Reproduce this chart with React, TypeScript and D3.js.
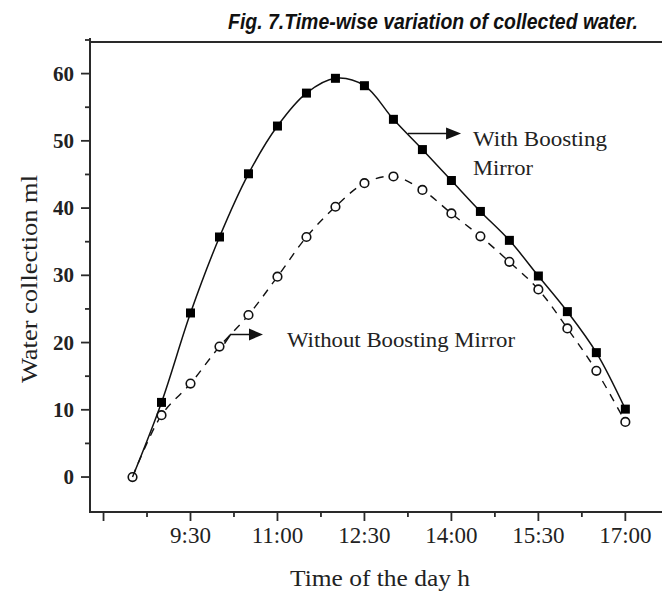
import React, { useLayoutEffect, useRef, useState } from "react";
import * as d3 from "d3";

const times = ["8:30","9:00","9:30","10:00","10:30","11:00","11:30","12:00","12:30","13:00","13:30","14:00","14:30","15:00","15:30","16:00","16:30","17:00"];
const withMirror = [0, 11.1, 24.4, 35.7, 45.1, 52.2, 57.1, 59.3, 58.2, 53.2, 48.7, 44.1, 39.5, 35.2, 29.9, 24.6, 18.5, 10.1];
const withoutMirror = [0, 9.2, 13.9, 19.4, 24.1, 29.8, 35.7, 40.2, 43.7, 44.7, 42.7, 39.2, 35.8, 32.0, 27.9, 22.1, 15.8, 8.2];
const xMajorTicks = ["8:00","9:30","11:00","12:30","14:00","15:30","17:00"];
const xTickLabels = ["","9:30","11:00","12:30","14:00","15:30","17:00"];
const xMinorTicks = ["8:45","10:15","11:45","13:15","14:45","16:15"];
const yMajorTicks = [0,10,20,30,40,50,60];
const yMinorTicks = [5,15,25,35,45,55,65];

const toMin = (t: string) => { const [h, m] = t.split(":").map(Number); return h * 60 + m; };

const W = 662, H = 593;
const L = 90, R = 664, T = 42, B = 512;
const TITLE_W = 410;

export default function App() {
  const titleRef = useRef<SVGTextElement>(null);
  const [sx, setSx] = useState(0.88);
  useLayoutEffect(() => {
    if (titleRef.current) {
      const w = titleRef.current.getComputedTextLength();
      if (w > 0) setSx(TITLE_W / w);
    }
  }, []);

  const x = d3.scaleLinear().domain([466, 1060]).range([L, R]);
  const y = d3.scaleLinear().domain([-5.2, 64.7]).range([B, T]);
  const ptsWith = times.map((t, i) => [x(toMin(t)), y(withMirror[i])] as [number, number]);
  const ptsWithout = times.map((t, i) => [x(toMin(t)), y(withoutMirror[i])] as [number, number]);
  const line = d3.line().curve(d3.curveCatmullRom.alpha(0.5));
  const axisColor = "#2a2a2a";
  const serif = "'Liberation Serif', 'Times New Roman', serif";

  // annotation anchors in data space
  const a1y = y(51.1), a1x0 = x(toMin("13:15")), a1x1 = x(toMin("14:10"));
  const a2y = y(21.2), a2x1 = x(toMin("10:45"));

  return (
    <svg width={W} height={H} style={{ position: "absolute", left: 0, top: 0, background: "#fff" }}>
      <rect x={0} y={0} width={W} height={H} fill="#fff" />
      <g transform={`translate(638,29) scale(${sx},1)`}>
        <text ref={titleRef} x={0} y={0} textAnchor="end" fontFamily="'Liberation Sans', Arial, sans-serif" fontStyle="italic" fontWeight="bold"
          fontSize={22} fill="#111">Fig. 7.Time-wise variation of collected water.</text>
      </g>

      {/* frame */}
      <line x1={L} x2={R} y1={T} y2={T} stroke={axisColor} strokeWidth={2} />
      <line x1={L} x2={L} y1={T - 4} y2={B + 1} stroke={axisColor} strokeWidth={2} />
      <line x1={L - 1} x2={R} y1={B} y2={B} stroke={axisColor} strokeWidth={2} />

      {/* y ticks */}
      {yMajorTicks.map(v => (
        <g key={"ym" + v}>
          <line x1={L - 9} x2={L} y1={y(v)} y2={y(v)} stroke={axisColor} strokeWidth={1.8} />
          <text x={L - 16} y={y(v) + 7} textAnchor="end" fontFamily={serif} fontWeight="bold" fontSize={21} fill="#222">{v}</text>
        </g>
      ))}
      {yMinorTicks.map(v => (
        <line key={"yn" + v} x1={L - 5} x2={L} y1={y(v)} y2={y(v)} stroke={axisColor} strokeWidth={1.8} />
      ))}

      {/* x ticks */}
      {xMajorTicks.map((t, i) => (
        <g key={"xm" + t}>
          <line x1={x(toMin(t))} x2={x(toMin(t))} y1={B} y2={B + 9} stroke={axisColor} strokeWidth={1.8} />
          <text x={x(toMin(t))} y={B + 31} textAnchor="middle" fontFamily={serif} fontSize={23} fill="#222">{xTickLabels[i]}</text>
        </g>
      ))}
      {xMinorTicks.map(t => (
        <line key={"xn" + t} x1={x(toMin(t))} x2={x(toMin(t))} y1={B} y2={B + 5} stroke={axisColor} strokeWidth={1.8} />
      ))}

      {/* axis titles */}
      <text x={380} y={586} textAnchor="middle" fontFamily={serif} fontSize={23} fill="#222"
        textLength={180} lengthAdjust="spacingAndGlyphs">Time of the day h</text>
      <text transform={`translate(37,279) rotate(-90)`} textAnchor="middle" fontFamily={serif} fontSize={23} fill="#222"
        textLength={208} lengthAdjust="spacingAndGlyphs">Water collection ml</text>

      {/* series: without mirror */}
      <path d={line(ptsWithout) || ""} fill="none" stroke="#111" strokeWidth={1.4} strokeDasharray="8,7" />
      {ptsWithout.map((p, i) => (
        <circle key={"c" + i} cx={p[0]} cy={p[1]} r={4.3} fill="#fff" stroke="#111" strokeWidth={1.6} />
      ))}

      {/* series: with mirror */}
      <path d={line(ptsWith) || ""} fill="none" stroke="#111" strokeWidth={1.5} />
      {ptsWith.map((p, i) => i === 0 ? null : (
        <rect key={"s" + i} x={p[0] - 4.5} y={p[1] - 4.5} width={9} height={9} fill="#000" />
      ))}

      {/* annotation: with */}
      <line x1={a1x0} x2={a1x1 - 10} y1={a1y} y2={a1y} stroke="#111" strokeWidth={1.6} />
      <polygon points={`${a1x1},${a1y} ${a1x1 - 15},${a1y - 6} ${a1x1 - 15},${a1y + 6}`} fill="#111" />
      <text x={473} y={146} fontFamily={serif} fontSize={21} fill="#222" textLength={134} lengthAdjust="spacingAndGlyphs">With Boosting</text>
      <text x={473} y={175} fontFamily={serif} fontSize={21} fill="#222" textLength={60} lengthAdjust="spacingAndGlyphs">Mirror</text>

      {/* annotation: without */}
      <polyline points={`${ptsWithout[3][0] + 5},${ptsWithout[3][1] - 3} ${ptsWithout[3][0] + 11},${a2y} ${a2x1 - 10},${a2y}`}
        fill="none" stroke="#111" strokeWidth={1.6} />
      <polygon points={`${a2x1},${a2y} ${a2x1 - 14},${a2y - 6} ${a2x1 - 14},${a2y + 6}`} fill="#111" />
      <text x={287} y={347} fontFamily={serif} fontSize={21} fill="#222" textLength={228} lengthAdjust="spacingAndGlyphs">Without Boosting Mirror</text>
    </svg>
  );
}
